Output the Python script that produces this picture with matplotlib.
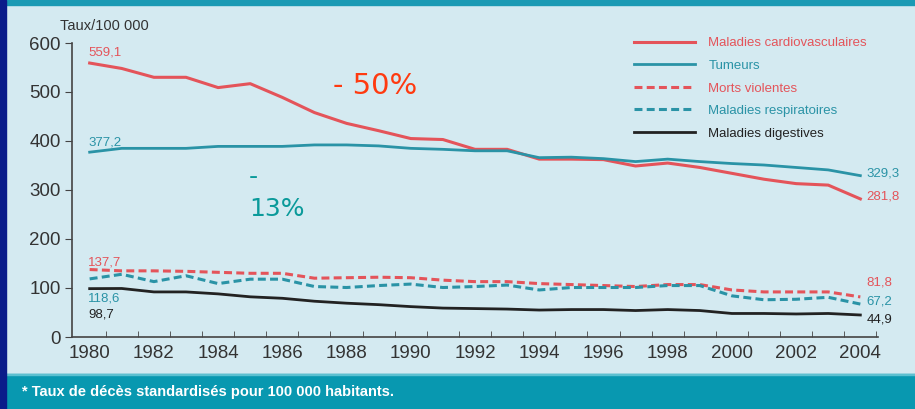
import matplotlib
matplotlib.use("Agg")
import matplotlib.pyplot as plt
from matplotlib.patches import Rectangle
import matplotlib.ticker as ticker

plt.rcParams['font.family'] = ['Liberation Sans', 'DejaVu Sans']

years = list(range(1980, 2005))
cardio = [559.1, 548, 530, 530, 509, 517, 489, 458, 436, 421, 405, 403, 383, 383,
          363, 363, 362, 349, 355, 346, 334, 322, 313, 310, 281.8]
tumeurs = [377.2, 385, 385, 385, 389, 389, 389, 392, 392, 390, 385, 383, 380, 380,
           366, 367, 364, 358, 363, 358, 354, 351, 346, 341, 329.3]
violentes = [137.7, 135, 135, 134, 132, 130, 130, 120, 121, 122, 121, 116, 113, 113,
             109, 107, 105, 103, 107, 107, 96, 92, 92, 92, 81.8]
respir = [118.6, 128, 113, 125, 109, 118, 118, 103, 101, 105, 108, 101, 103, 106,
          96, 101, 101, 101, 105, 105, 84, 76, 77, 81, 67.2]
digest = [98.7, 99, 92, 92, 88, 82, 79, 73, 69, 66, 62, 59, 58, 57,
          55, 56, 56, 54, 56, 54, 48, 48, 47, 48, 44.9]

labels = ["Maladies cardiovasculaires", "Tumeurs", "Morts violentes",
          "Maladies respiratoires", "Maladies digestives"]
red = "#e4545a"
teal = "#2a93a6"
dark = "#222222"

fig = plt.figure(figsize=(9.15, 4.09), dpi=100)
W, H = 915, 409
fig.patch.set_facecolor("#d4eaf1")
# frame bands
fig.patches.append(Rectangle((0, 0), 1, 35 / H, transform=fig.transFigure,
                             color="#0898b0", zorder=0))
fig.patches.append(Rectangle((0, 34 / H), 1, 1.5 / H, transform=fig.transFigure,
                             color="#5cc0d0", zorder=0))
fig.patches.append(Rectangle((0, 1 - 5 / H), 1, 5 / H, transform=fig.transFigure,
                             color="#1a9ab4", zorder=0))
fig.patches.append(Rectangle((0, 0), 6 / W, 1, transform=fig.transFigure,
                             color="#0a1c8a", zorder=1))

ax = fig.add_axes([72 / W, 1 - 337 / H, (878 - 72) / W, (337 - 43) / H])
ax.set_facecolor("none")

ax.plot(years, cardio, color=red, lw=2.2, label=labels[0])
ax.plot(years, tumeurs, color=teal, lw=2.0, label=labels[1])
ax.plot(years, violentes, color=red, lw=2.2, ls=(0, (2.6, 1.4)), label=labels[2])
ax.plot(years, respir, color=teal, lw=2.2, ls=(0, (2.6, 1.4)), label=labels[3])
ax.plot(years, digest, color=dark, lw=2.0, label=labels[4])

ax.set_xlim(1979.45, 2004.55)
ax.set_ylim(0, 600)
for s in ["top", "right"]:
    ax.spines[s].set_visible(False)
for s in ["left", "bottom"]:
    ax.spines[s].set_color("#444444")
    ax.spines[s].set_linewidth(1.2)

ax.yaxis.set_major_locator(ticker.MultipleLocator(100))
ax.set_xticks(list(range(1980, 2005, 2)))
ax.set_xticks([y + 0.5 for y in range(1980, 2005)], minor=True)
ax.tick_params(axis="x", which="major", length=0, pad=6, labelsize=13.5, labelcolor="#333333")
ax.tick_params(axis="x", which="minor", direction="in", length=4, color="#444444")
ax.tick_params(axis="y", length=5, color="#444444", labelsize=13.5, labelcolor="#333333", pad=3)

ax.text(-0.015, 1.035, "Taux/100 000", transform=ax.transAxes, fontsize=10.5,
        color="#333333", ha="left", va="bottom")

# start / end values
ax.text(1979.95, 568, "559,1", color=red, fontsize=9.5, va="bottom")
ax.text(1979.95, 385, "377,2", color=teal, fontsize=9.5, va="bottom")
ax.text(1979.95, 140, "137,7", color=red, fontsize=9.5, va="bottom")
ax.text(1979.95, 78, "118,6", color=teal, fontsize=9.5, va="center")
ax.text(1979.95, 46, "98,7", color=dark, fontsize=9.5, va="center")
ax.text(2004.2, 334, "329,3", color=teal, fontsize=9.5, va="center")
ax.text(2004.2, 287, "281,8", color=red, fontsize=9.5, va="center")
ax.text(2004.2, 112, "81,8", color=red, fontsize=9.5, va="center")
ax.text(2004.2, 73, "67,2", color=teal, fontsize=9.5, va="center")
ax.text(2004.2, 35, "44,9", color=dark, fontsize=9.5, va="center")

leg = ax.legend(loc="upper left", bbox_to_anchor=(0.683, 1.06), frameon=False,
                fontsize=9.5, handlelength=4.6, handletextpad=1.0, labelspacing=0.78)
for t, c in zip(leg.get_texts(), [red, teal, red, teal, dark]):
    t.set_color(c)

fig.text(333 / W, 1 - 86 / H, "- 50%", color="#ff3a10", fontsize=21, va="center",
         ha="left", family="DejaVu Sans")
fig.text(249 / W, 1 - 193 / H, "-\n13%", color="#0a9a9a", fontsize=18, va="center",
         ha="left", linespacing=1.45, family="DejaVu Sans")

fig.text(22 / W, 1 - 392 / H, "* Taux de décès standardisés pour 100 000 habitants.",
         color="white", fontsize=10.5, fontweight="bold", va="center")

fig.savefig("out.png", dpi=100, facecolor=fig.get_facecolor())
